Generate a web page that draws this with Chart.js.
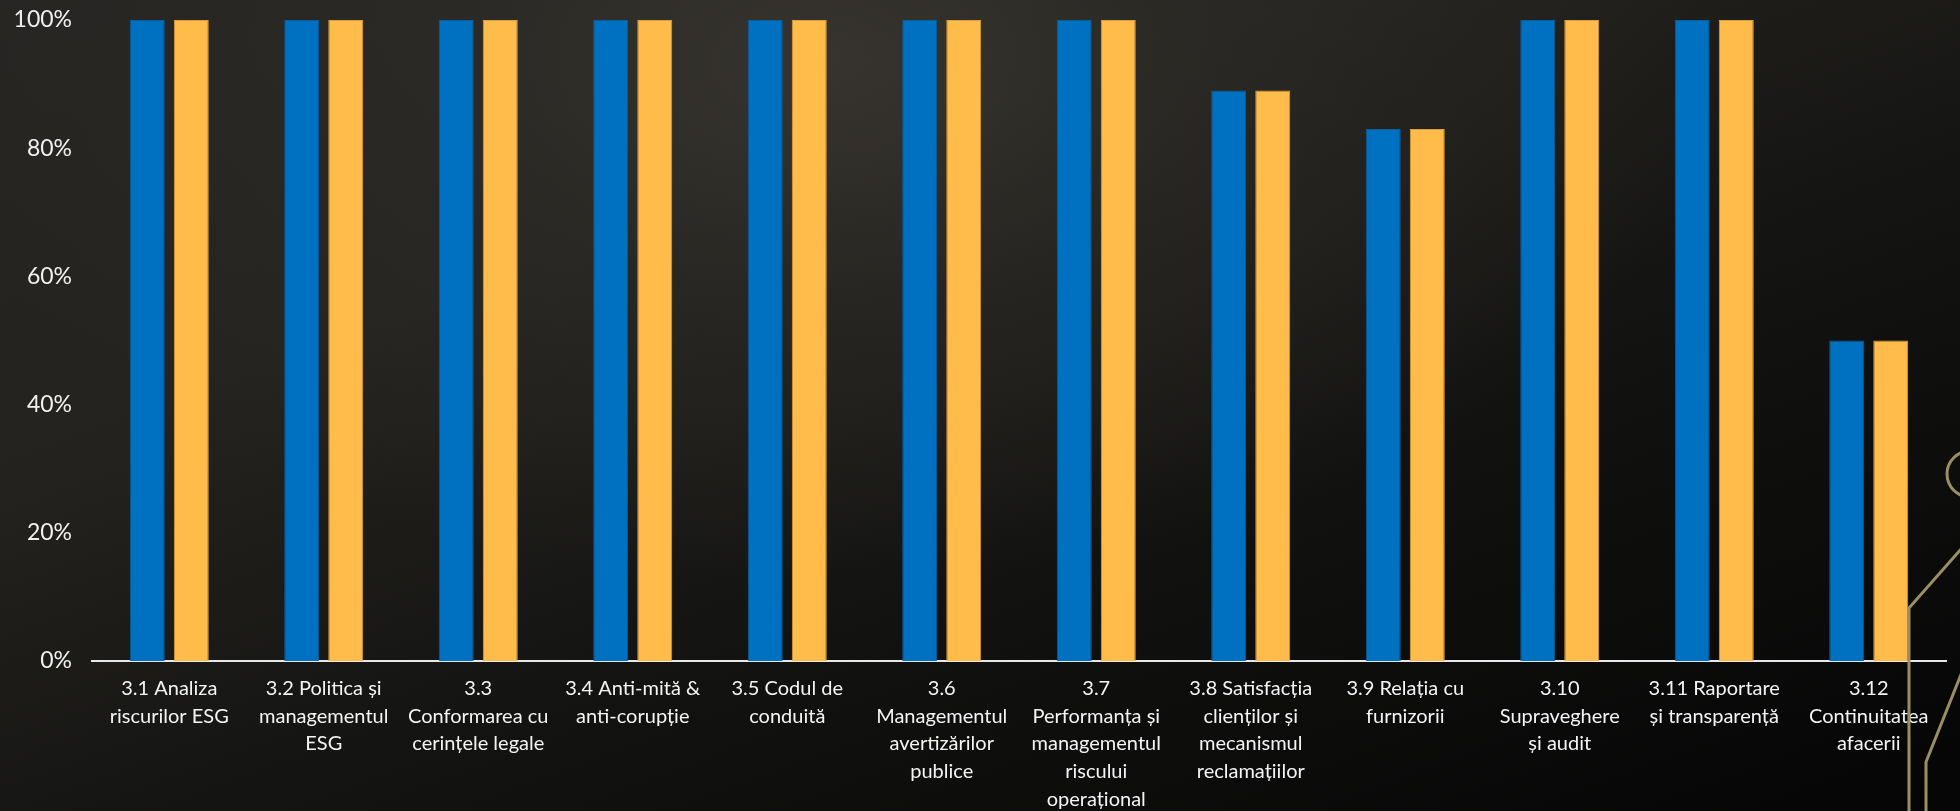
<!DOCTYPE html>
<html>
<head>
<meta charset="utf-8">
<script src="https://cdn.jsdelivr.net/npm/chart.js@4"></script>
<style>
  html, body { margin: 0; padding: 0; }
  body {
    width: 1960px; height: 811px; overflow: hidden; position: relative;
    background:
      radial-gradient(ellipse 900px 520px at 820px 60px, rgba(58,55,49,0.85) 0%, rgba(45,43,39,0.6) 45%, rgba(0,0,0,0) 100%),
      linear-gradient(160deg, #262523 0%, #24231f 30%, #121211 62%, #050505 100%);
  }
  #wrap { position: absolute; left: 0; top: 0; width: 1960px; height: 811px; }
  #deco { position: absolute; left: 0; top: 0; pointer-events: none; }
</style>
</head>
<body>
<div id="wrap"><canvas id="myChart" width="1960" height="811"></canvas></div>
<svg id="deco" width="1960" height="811">
  <g fill="none" stroke="#9a8f63" stroke-width="3">
    <circle cx="1970" cy="474" r="23" />
    <polyline points="1909,811 1909,608 1962,548" />
    <polyline points="1926,811 1926,762 1962,672" />
  </g>
</svg>
<script>
const labels = [
  ["3.1 Analiza", "riscurilor ESG"],
  ["3.2 Politica și", "managementul", "ESG"],
  ["3.3", "Conformarea cu", "cerințele legale"],
  ["3.4 Anti-mită &", "anti-corupție"],
  ["3.5 Codul de", "conduită"],
  ["3.6", "Managementul", "avertizărilor", "publice"],
  ["3.7", "Performanța și", "managementul", "riscului", "operațional"],
  ["3.8 Satisfacția", "clienților și", "mecanismul", "reclamațiilor"],
  ["3.9 Relația cu", "furnizorii"],
  ["3.10", "Supraveghere", "și audit"],
  ["3.11 Raportare", "și transparență"],
  ["3.12", "Continuitatea", "afacerii"]
];
const seriesBlue = [100, 100, 100, 100, 100, 100, 100, 89, 83, 100, 100, 50];
const seriesYellow = [100, 100, 100, 100, 100, 100, 100, 89, 83, 100, 100, 50];
const yTicks = [0, 20, 40, 60, 80, 100];

const ctx = document.getElementById("myChart");

var myChart = new Chart(ctx, {
  type: "bar",
  data: {
    labels: labels,
    datasets: [
      {
        label: "Seria 1",
        data: seriesBlue,
        backgroundColor: "#0070c0",
        borderColor: "#0b5d9c",
        borderWidth: 1,
        barPercentage: 0.795,
        categoryPercentage: 0.57,
      },
      {
        label: "Seria 2",
        data: seriesYellow,
        backgroundColor: "#ffbc4b",
        borderColor: "#dc9f3c",
        borderWidth: 1,
        barPercentage: 0.795,
        categoryPercentage: 0.57,
      },
    ],
  },
  options: {
    responsive: false,
    animation: false,
    layout: { padding: { top: 20, right: 14, left: 0, bottom: 0 } },
    plugins: {
      legend: { display: false },
      tooltip: { enabled: false },
    },
    scales: {
      x: {
        grid: { display: false, drawTicks: false },
        border: { display: true, color: "#e8e8e8", width: 2 },
        ticks: {
          color: "#f4f4f4",
          font: { family: "Lato", size: 20, lineHeight: 1.38 },
          padding: 14,
          maxRotation: 0,
          autoSkip: false,
        },
        afterFit: (scale) => {
          scale.height = 150;
          scale.paddingTop = 0;
          scale.paddingBottom = 0;
        },
      },
      y: {
        min: 0,
        max: 100,
        afterBuildTicks: (scale) => { scale.ticks = yTicks.map((v) => ({ value: v })); },
        grid: { display: false, drawTicks: false },
        border: { display: false },
        ticks: {
          color: "#f0f0f0",
          font: { family: "Lato", size: 23 },
          padding: 20,
          callback: (v) => v + "%",
        },
        afterFit: (scale) => {
          scale.width = 92;
          scale.paddingTop = 0;
          scale.paddingBottom = 0;
        },
      },
    },
  },
});
</script>
</body>
</html>
